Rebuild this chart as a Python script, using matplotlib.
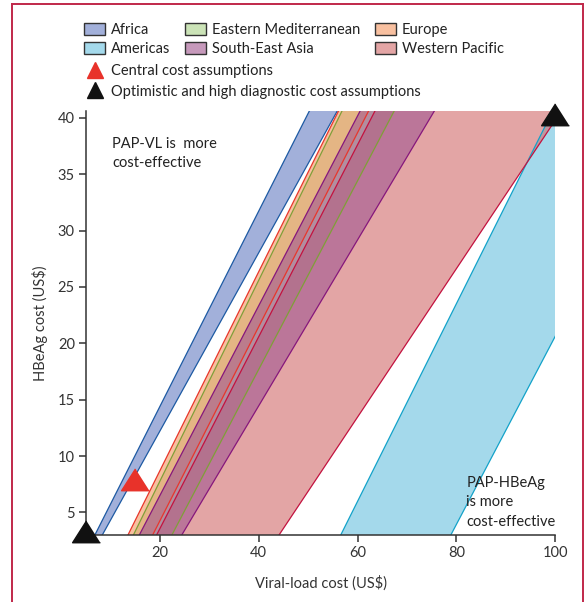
import numpy as np
import matplotlib.pyplot as plt
from matplotlib.patches import Patch
from matplotlib.lines import Line2D
from matplotlib.colors import to_rgba

plt.rcParams['font.family'] = ['Lato', 'DejaVu Sans']

hbeag = [3, 41]

# viral-load cost (US$) of the two threshold lines bounding each region's band,
# read at HBeAg = 3 and HBeAg = 41
africa_lo = [6.8, 50.7]
africa_hi = [8.3, 56.4]
americas_lo = [56.6, 100.0]
americas_hi = [78.9, 124.5]
emed_lo = [14.6, 57.3]
emed_hi = [22.4, 67.9]
europe_lo = [13.5, 56.6]
europe_hi = [18.5, 62.7]
seasia_lo = [15.8, 61.0]
seasia_hi = [24.4, 76.1]
wpac_lo = [19.3, 64.0]
wpac_hi = [44.1, 101.9]

# scenario points (viral-load cost, HBeAg cost)
central_pt = [(15, 7.6)]
optimistic_pts = [(5, 3), (100, 40)]

alpha = 0.62
# drawn in this order (later ones sit on top)
bands = [
    # label, lo, hi, fill, edge
    ('Africa', africa_lo, africa_hi, '#6a80c4', '#1d5aa3'),
    ('Americas', americas_lo, americas_hi, '#6cc3df', '#13a2c9'),
    ('Eastern Mediterranean', emed_lo, emed_hi, '#acd38c', '#7f9f38'),
    ('Europe', europe_lo, europe_hi, '#f59a66', '#e8362c'),
    ('Western Pacific', wpac_lo, wpac_hi, '#d26f6f', '#c3123f'),
    ('South-East Asia', seasia_lo, seasia_hi, '#a35a92', '#86177c'),
]

fig = plt.figure(figsize=(5.87, 6.02), dpi=100)
ax = fig.add_axes([0.1465, 0.1113, 0.799, 0.7043])

for label, lo, hi, fc, ec in bands:
    ax.fill_betweenx(hbeag, lo, hi, facecolor=fc, alpha=alpha, linewidth=0)
    ax.plot(lo, hbeag, color=ec, lw=0.9)
    ax.plot(hi, hbeag, color=ec, lw=0.9)

tri = [(0, 14.7), (-14, -7.3), (14, -7.3)]
ax.plot([p[0] for p in central_pt], [p[1] for p in central_pt], ls='none',
        marker=tri, ms=21, color='#e8322a', mec='#e8322a', zorder=5, clip_on=False)
ax.plot([p[0] for p in optimistic_pts], [p[1] for p in optimistic_pts], ls='none',
        marker=tri, ms=21, color='#111111', mec='#111111', zorder=5, clip_on=False)

ax.set_xlim(5, 100)
ax.set_ylim(3, 40.6)
ax.set_xticks([20, 40, 60, 80, 100])
ax.set_yticks([5, 10, 15, 20, 25, 30, 35, 40])
for s in ['top', 'right']:
    ax.spines[s].set_visible(False)
for s in ['left', 'bottom']:
    ax.spines[s].set_color('#333333')
    ax.spines[s].set_linewidth(1.1)
ax.tick_params(direction='out', length=5, width=1.1, color='#333333',
               labelcolor='#333333', labelsize=10.5, pad=3)
ax.set_xlabel('Viral-load cost (US$)', fontsize=10.5, color='#333333', labelpad=11)
ax.set_ylabel('HBeAg cost (US$)', fontsize=10.5, color='#333333', labelpad=7)

ax.text(10.3, 38.3, 'PAP-VL is  more\ncost-effective', fontsize=10.5, color='#222222',
        va='top', ha='left', linespacing=1.5)
ax.text(82, 8.25, 'PAP-HBeAg\nis more\ncost-effective', fontsize=10.5, color='#222222',
        va='top', ha='left', linespacing=1.5)

# legend
order = ['Africa', 'Americas', 'Eastern Mediterranean', 'South-East Asia', 'Europe', 'Western Pacific']
lookup = {b[0]: b for b in bands}
handles = [Patch(facecolor=to_rgba(lookup[k][3], alpha), edgecolor='#333333', linewidth=1)
           for k in order]
leg1 = fig.legend(handles, order, ncol=3, loc='upper left', bbox_to_anchor=(0.143, 0.962),
                  frameon=False, fontsize=10.5, handlelength=1.45, handleheight=0.9,
                  handletextpad=0.4, columnspacing=1.0, labelspacing=0.35, borderpad=0,
                  borderaxespad=0, labelcolor='#222222')
mk = [Line2D([], [], ls='none', marker='^', ms=12, color='#e8322a'),
      Line2D([], [], ls='none', marker='^', ms=12, color='#111111')]
leg2 = fig.legend(mk, ['Central cost assumptions', 'Optimistic and high diagnostic cost assumptions'],
                  loc='upper left', bbox_to_anchor=(0.143, 0.893), frameon=False, fontsize=10.5,
                  handlelength=1.45, handletextpad=0.4, labelspacing=0.42, borderpad=0,
                  borderaxespad=0, labelcolor='#222222')

# page frame
frame_c = '#c0284a'
fig.add_artist(Line2D([12 / 587, 12 / 587], [0, 1 - 4 / 602], color=frame_c, lw=1.4))
fig.add_artist(Line2D([12 / 587, 583 / 587], [1 - 4 / 602, 1 - 4 / 602], color=frame_c, lw=1.4))
fig.add_artist(Line2D([583 / 587, 583 / 587], [0, 1 - 4 / 602], color=frame_c, lw=1.4))

fig.savefig('out.png', dpi=100)
